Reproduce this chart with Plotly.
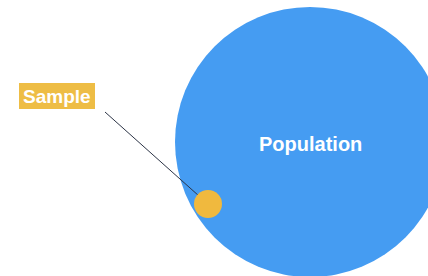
import plotly.graph_objects as go

# Diagram data
names = ["Population", "Sample"]
radii = [135, 14]          # circle radii (px units of the axes)
centers_x = [310, 208]
centers_y = [142, 204]
colors = ["#459CF2", "#F0B93E"]

W, H = 428, 276
fig = go.Figure()
fig.add_trace(go.Scatter(x=[0, W], y=[0, H], mode="markers", marker=dict(opacity=0), hoverinfo="skip", showlegend=False))

circ = []
for r, cx, cy, col in zip(radii, centers_x, centers_y, colors):
    circ.append(dict(type="circle", xref="x", yref="y", x0=cx - r, x1=cx + r, y0=cy - r, y1=cy + r,
                     fillcolor=col, line=dict(width=0), layer="above"))
box = dict(type="rect", xref="x", yref="y", x0=19, x1=95, y0=83, y1=109,
           fillcolor="#EEBD45", line=dict(width=0), layer="above")
line = dict(type="line", xref="x", yref="y", x0=105, y0=112, x1=199, y1=196,
            line=dict(color="#2c3446", width=1), layer="above")
fig.update_layout(shapes=[box, circ[0], line, circ[1]])

fig.add_annotation(x=centers_x[0], y=centers_y[0] + 2, xref="x", yref="y", text="<b>" + names[0] + "</b>",
                   showarrow=False, font=dict(family="Liberation Sans, Arial, sans-serif", size=20, color="white"))
fig.add_annotation(x=57, y=96.5, xref="x", yref="y", text="<b>" + names[1] + "</b>",
                   showarrow=False, font=dict(family="Liberation Sans, Arial, sans-serif", size=19, color="white"))

fig.update_layout(width=W, height=H, margin=dict(l=0, r=0, t=0, b=0),
                  paper_bgcolor="white", plot_bgcolor="white",
                  xaxis=dict(range=[0, W], visible=False, fixedrange=True),
                  yaxis=dict(range=[H, 0], visible=False, fixedrange=True),
                  showlegend=False)
fig.write_html("out.html", config={"displayModeBar": False},
               post_script="document.body.style.margin='0';document.body.style.overflow='hidden';")
